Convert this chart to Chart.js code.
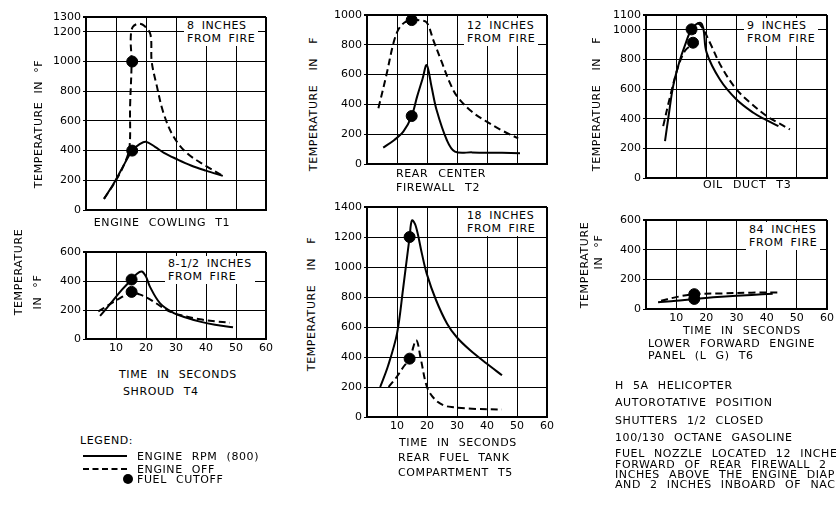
<!DOCTYPE html>
<html lang="en">
<head>
  <meta charset="UTF-8" />
  <title>H-5A Helicopter Fire Test Temperatures</title>
  <script src="https://cdn.jsdelivr.net/npm/chart.js"></script>
  <style>
    html, body { margin: 0; padding: 0; background: #fff; }
    body { width: 836px; height: 531px; position: relative; overflow: hidden;
           font-family: "DejaVu Sans", sans-serif; font-size: 11px; color: #000; }
    canvas { position: absolute; }
    .t { position: absolute; white-space: pre; line-height: 13px; word-spacing: 5px;
         letter-spacing: 0.6px; z-index: 2; }
    .c { transform: translate(-50%, -50%); }
    .l { transform: translateY(-50%); }
    .r { transform: translate(-50%, -50%) rotate(-90deg); }
    .box { background: #fff; padding: 1px 3px; }
  </style>
</head>
<body>

<!-- panel captions -->
<div class="t r" style="left:38px; top:124px; word-spacing:4px;">TEMPERATURE IN °F</div>
<div class="t c" style="left:162px; top:222px; word-spacing:5px;">ENGINE COWLING T1</div>
<div class="t box" style="left:184px; top:18px; word-spacing:3px;">8 INCHES
FROM FIRE</div>

<div class="t r" style="left:313px; top:104px; word-spacing:10px;">TEMPERATURE IN F</div>
<div class="t l" style="left:396px; top:173px; word-spacing:6px;">REAR CENTER</div>
<div class="t l" style="left:396px; top:187px; word-spacing:6px;">FIREWALL T2</div>
<div class="t box" style="left:464px; top:18px; word-spacing:3px;">12 INCHES
FROM FIRE</div>

<div class="t r" style="left:596px; top:104px; word-spacing:10px;">TEMPERATURE IN F</div>
<div class="t l" style="left:703px; top:184px; word-spacing:6px;">OIL DUCT T3</div>
<div class="t box" style="left:744px; top:18px; word-spacing:3px;">9 INCHES
FROM FIRE</div>

<div class="t r" style="left:18px; top:272px;">TEMPERATURE</div>
<div class="t r" style="left:37px; top:292px;">IN °F</div>
<div class="t l" style="left:119px; top:374px;">TIME IN SECONDS</div>
<div class="t l" style="left:123px; top:391px;">SHROUD T4</div>
<div class="t box" style="left:165px; top:256px; word-spacing:3px;">8-1/2 INCHES
FROM FIRE</div>

<div class="t r" style="left:311px; top:304px; word-spacing:10px;">TEMPERATURE IN F</div>
<div class="t l" style="left:399px; top:442px;">TIME IN SECONDS</div>
<div class="t l" style="left:398px; top:457px;">REAR FUEL TANK</div>
<div class="t l" style="left:398px; top:472px;">COMPARTMENT T5</div>
<div class="t box" style="left:464px; top:208px; word-spacing:3px;">18 INCHES
FROM FIRE</div>

<div class="t r" style="left:584px; top:265px;">TEMPERATURE</div>
<div class="t r" style="left:598px; top:252px;">IN °F</div>
<div class="t l" style="left:683px; top:330px;">TIME IN SECONDS</div>
<div class="t l" style="left:648px; top:343px;">LOWER FORWARD ENGINE</div>
<div class="t l" style="left:648px; top:355px;">PANEL (L G) T6</div>
<div class="t box" style="left:746px; top:222px; word-spacing:3px;">84 INCHES
FROM FIRE</div>

<!-- legend -->
<div class="t l" style="left:80px; top:440px;">LEGEND:</div>
<div style="position:absolute; left:83px; top:455px; width:44px; border-top:2px solid #000;"></div>
<div class="t l" style="left:137px; top:456px;">ENGINE RPM (800)</div>
<div style="position:absolute; left:83px; top:468px; width:44px; border-top:2px dashed #000;"></div>
<div class="t l" style="left:137px; top:469px;">ENGINE OFF</div>
<div style="position:absolute; left:123px; top:474px; width:10px; height:10px; border-radius:50%; background:#000;"></div>
<div class="t l" style="left:137px; top:479px;">FUEL CUTOFF</div>

<!-- test notes -->
<div class="t l" style="left:615px; top:385px;">H 5A HELICOPTER</div>
<div class="t l" style="left:615px; top:402px;">AUTOROTATIVE POSITION</div>
<div class="t l" style="left:615px; top:420px;">SHUTTERS 1/2 CLOSED</div>
<div class="t l" style="left:615px; top:437px;">100/130 OCTANE GASOLINE</div>
<div class="t l" style="left:615px; top:453px;">FUEL NOZZLE LOCATED 12 INCHES</div>
<div class="t l" style="left:615px; top:464px;">FORWARD OF REAR FIREWALL 2</div>
<div class="t l" style="left:615px; top:474px;">INCHES ABOVE THE ENGINE DIAPHRAGM</div>
<div class="t l" style="left:615px; top:484px;">AND 2 INCHES INBOARD OF NACELLE</div>

<script>
// time axis (seconds)
const xTicks = [0, 10, 20, 30, 40, 50, 60];

// T1 - engine cowling, 8 in from fire
const t1YTicks = [0, 200, 400, 600, 800, 1000, 1200, 1300];
const t1SolidT = [6, 9, 12, 15.4, 18, 20, 23, 26, 30, 35, 40, 45.6];
const t1SolidV = [75, 170, 280, 400, 445, 460, 425, 385, 345, 300, 265, 230];
const t1DashT = [6, 10, 13, 14.5, 14.7, 15.2, 14.9, 15.5, 17.4, 19.5, 21.5, 21.9, 23.6, 25.8, 29.1, 33.6, 40.2, 45.6];
const t1DashV = [75, 200, 320, 420, 700, 1000, 1150, 1230, 1255, 1240, 1180, 1000, 836, 655, 497, 384, 294, 230];
const t1DotT = [15.4, 15.4];
const t1DotV = [1000, 400];

// T2 - rear center firewall, 12 in
const t2YTicks = [0, 200, 400, 600, 800, 1000];
const t2SolidT = [5.4, 9, 12.1, 14.9, 16.7, 18.5, 19.9, 21.5, 23.2, 26.6, 29.3, 35, 45, 51];
const t2SolidV = [110, 160, 217, 322, 452, 570, 664, 520, 362, 161, 83, 78, 75, 72];
const t2DashT = [3.8, 6.5, 8.8, 10.4, 12.5, 14.9, 17.5, 19.9, 22.1, 25, 27.7, 30.1, 35, 39.9, 45, 50.4];
const t2DashV = [374, 600, 810, 900, 950, 966, 965, 950, 832, 680, 541, 452, 350, 284, 225, 172];
const t2DotT = [14.9, 14.9];
const t2DotV = [966, 322];

// T3 - oil duct, 9 in
const t3YTicks = [0, 200, 400, 600, 800, 1000, 1100];
const t3SolidT = [6.3, 7.5, 9, 11, 13, 15.1, 17.9, 19, 20.1, 24.5, 30, 35.6, 39, 43.9];
const t3SolidV = [249, 420, 620, 780, 900, 1003, 1048, 1010, 846, 665, 530, 440, 400, 350];
const t3DashT = [5.7, 8, 10.7, 13, 15.6, 16.9, 18.5, 21.2, 25, 30, 35, 40, 44, 47.7];
const t3DashV = [350, 550, 755, 860, 913, 1040, 1020, 913, 750, 598, 500, 418, 370, 328];
const t3DotT = [15.1, 15.6];
const t3DotV = [1003, 913];

// T4 - shroud, 8-1/2 in
const t4YTicks = [0, 200, 400, 600];
const t4SolidT = [4.7, 8, 12, 15.2, 17, 18.6, 20, 21.3, 24.7, 29.1, 33, 38, 43, 49];
const t4SolidV = [159, 240, 340, 410, 450, 465, 430, 361, 246, 181, 150, 120, 98, 81];
const t4DashT = [4.1, 8, 12, 15.2, 17.5, 20.2, 23.5, 26.9, 31.3, 38, 43, 48];
const t4DashV = [190, 240, 290, 325, 310, 287, 245, 200, 166, 136, 122, 112];
const t4DotT = [15.2, 15.2];
const t4DotV = [410, 325];

// T5 - rear fuel tank compartment, 18 in
const t5YTicks = [0, 200, 400, 600, 800, 1000, 1200, 1400];
const t5SolidT = [4.4, 7, 10, 12, 14.2, 15, 16.3, 18.3, 19.9, 23, 26.7, 30, 34.4, 40, 45];
const t5SolidV = [200, 340, 556, 850, 1200, 1311, 1270, 1089, 956, 780, 622, 530, 445, 355, 278];
const t5DashT = [7.2, 10, 12, 14.2, 16.4, 18, 20, 22.5, 25.5, 28.8, 35, 45];
const t5DashV = [200, 270, 330, 389, 511, 380, 200, 120, 78, 65, 55, 50];
const t5DotT = [14.2, 14.2];
const t5DotV = [1200, 389];

// T6 - lower forward engine panel, 84 in
const t6YTicks = [0, 200, 400, 600];
const t6SolidT = [4, 10, 16, 25, 35, 42];
const t6SolidV = [45, 55, 68, 82, 95, 102];
const t6DashT = [5, 10, 16, 25, 35, 44];
const t6DashV = [55, 80, 100, 105, 110, 112];
const t6DotT = [16, 16];
const t6DotV = [100, 68];

// plot rectangles [left, top, right, bottom] in page pixels
const panels = [
  { box: [86, 17, 266, 210],  yTicks: t1YTicks, xLabels: false, s: [t1SolidT, t1SolidV], d: [t1DashT, t1DashV], p: [t1DotT, t1DotV] },
  { box: [367, 15, 547, 164], yTicks: t2YTicks, xLabels: false, s: [t2SolidT, t2SolidV], d: [t2DashT, t2DashV], p: [t2DotT, t2DotV] },
  { box: [646, 15, 827, 178], yTicks: t3YTicks, xLabels: false, s: [t3SolidT, t3SolidV], d: [t3DashT, t3DashV], p: [t3DotT, t3DotV] },
  { box: [86, 252, 266, 339], yTicks: t4YTicks, xLabels: true,  s: [t4SolidT, t4SolidV], d: [t4DashT, t4DashV], p: [t4DotT, t4DotV] },
  { box: [367, 207, 547, 417], yTicks: t5YTicks, xLabels: true, s: [t5SolidT, t5SolidV], d: [t5DashT, t5DashV], p: [t5DotT, t5DotV] },
  { box: [646, 220, 827, 309], yTicks: t6YTicks, xLabels: true, s: [t6SolidT, t6SolidV], d: [t6DashT, t6DashV], p: [t6DotT, t6DotV] }
];

const Y_W = 44, X_H = 24, PAD_T = 10, PAD_R = 12;
const tickFont = { family: 'DejaVu Sans', size: 11 };

function pts(ts, vs) {
  return ts.map((t, i) => ({ x: t, y: vs[i] }));
}

panels.forEach(p => {
  const [L, T, R, B] = p.box;
  const cv = document.createElement('canvas');
  cv.width = (R - L) + Y_W + PAD_R;
  cv.height = (B - T) + PAD_T + X_H;
  cv.style.left = (L - Y_W) + 'px';
  cv.style.top = (T - PAD_T) + 'px';
  document.body.appendChild(cv);

  const yMax = p.yTicks[p.yTicks.length - 1];

  new Chart(cv, {
    type: 'scatter',
    data: {
      datasets: [
        { data: pts(p.s[0], p.s[1]), showLine: true, borderColor: '#000', borderWidth: 2,
          pointRadius: 0, tension: 0.35 },
        { data: pts(p.d[0], p.d[1]), showLine: true, borderColor: '#000', borderWidth: 2,
          borderDash: [7, 4], pointRadius: 0, tension: 0.35 },
        { data: pts(p.p[0], p.p[1]), showLine: false, pointRadius: 5.5,
          backgroundColor: '#000', borderColor: '#000' }
      ]
    },
    options: {
      responsive: false,
      animation: false,
      layout: { padding: { top: PAD_T, right: PAD_R, left: 0, bottom: 0 } },
      plugins: { legend: { display: false }, tooltip: { enabled: false } },
      scales: {
        x: {
          type: 'linear', min: 0, max: 60,
          afterBuildTicks: s => { s.ticks = xTicks.map(v => ({ value: v })); },
          afterFit: s => { s.height = X_H; },
          ticks: { display: p.xLabels, color: '#000', font: tickFont, padding: 3, maxRotation: 0,
                   callback: v => v === 0 ? '' : String(v) },
          grid: { color: '#000', drawTicks: false,
                  lineWidth: c => (c.tick && c.tick.value === 60) ? 2 : 1 },
          border: { display: true, color: '#000', width: 2 }
        },
        y: {
          min: 0, max: yMax,
          afterBuildTicks: s => { s.ticks = p.yTicks.map(v => ({ value: v })); },
          afterFit: s => { s.width = Y_W; },
          ticks: { color: '#000', font: tickFont, padding: 2, callback: v => String(v) },
          grid: { color: '#000', tickLength: 3,
                  lineWidth: c => (c.tick && c.tick.value === yMax) ? 2 : 1 },
          border: { display: true, color: '#000', width: 2 }
        }
      }
    }
  });
});
</script>
</body>
</html>
